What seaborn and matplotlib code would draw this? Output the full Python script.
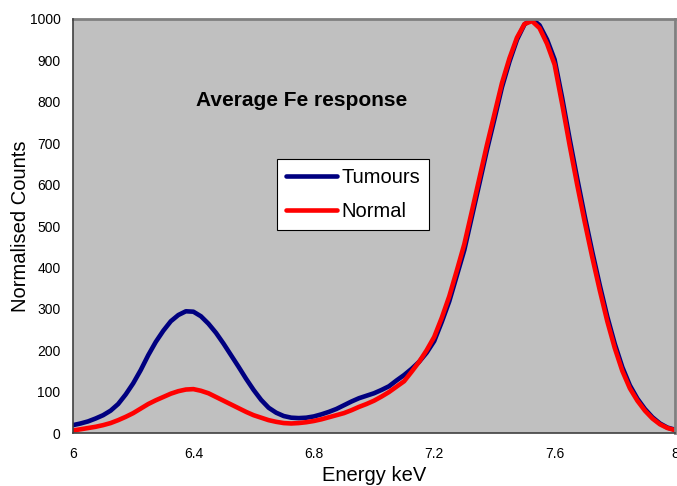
import numpy as np
import pandas as pd
import matplotlib
matplotlib.use("Agg")
import matplotlib.pyplot as plt
import seaborn as sns

# Energy grid (keV) shared by both spectra
energy = np.round(np.arange(6.0, 8.0001, 0.025), 3)

# Average Fe response, normalised to the main peak
tumours = [
    19, 23, 28, 35, 43, 54, 70, 93, 120, 152,
    188, 220, 247, 270, 285, 294, 293, 282, 264, 242,
    216, 188, 160, 131, 104, 80, 61, 49, 41, 37,
    36, 37, 40, 45, 51, 58, 67, 76, 84, 90,
    96, 104, 113, 127, 140, 155, 172, 194, 222, 268,
    318, 380, 442, 522, 602, 683, 758, 835, 897, 950,
    987, 1000, 985, 950, 902, 810, 710, 615, 524, 438,
    357, 281, 215, 159, 115, 83, 58, 38, 23, 13,
    8,
]
normal = [
    6, 9, 12, 15, 19, 24, 31, 39, 48, 59,
    70, 79, 87, 95, 101, 105, 106, 102, 96, 87,
    78, 69, 60, 51, 43, 37, 31, 27, 24, 23,
    24, 26, 29, 33, 38, 43, 48, 55, 63, 70,
    78, 88, 99, 112, 125, 148, 172, 200, 232, 278,
    330, 392, 456, 535, 615, 695, 770, 845, 905, 955,
    988, 995, 978, 940, 890, 795, 695, 600, 510, 425,
    345, 270, 205, 150, 108, 78, 54, 35, 21, 12,
    7,
]
series_names = ["Tumours", "Normal"]
series_colors = ["#000080", "#FF0000"]

x_ticks = [6.0, 6.4, 6.8, 7.2, 7.6, 8.0]
x_tick_labels = ["6", "6.4", "6.8", "7.2", "7.6", "8"]
y_ticks = list(range(0, 1001, 100))

df = pd.concat([
    pd.DataFrame({"Energy": energy, "Counts": tumours, "Sample": series_names[0]}),
    pd.DataFrame({"Energy": energy, "Counts": normal, "Sample": series_names[1]}),
], ignore_index=True)

sns.set_style("white")
plt.rcParams["font.family"] = ["Liberation Sans", "DejaVu Sans"]
plt.rcParams["text.color"] = "black"
plt.rcParams["axes.labelcolor"] = "black"

fig = plt.figure(figsize=(6.77, 4.86), dpi=100)
ax = fig.add_axes([73 / 677, 53 / 486, 602 / 677, 414 / 486])
ax.set_facecolor("#C0C0C0")

sns.lineplot(
    data=df, x="Energy", y="Counts", hue="Sample",
    hue_order=series_names, palette=dict(zip(series_names, series_colors)),
    linewidth=3.3, ax=ax, sort=False, estimator=None,
)

ax.set_xlim(6, 8)
ax.set_ylim(0, 1000)
ax.set_xticks(x_ticks)
ax.set_xticklabels(x_tick_labels)
ax.set_yticks(y_ticks)
ax.tick_params(axis="both", direction="out", length=5, width=1,
               color="#404040", labelsize=10, labelcolor="black", pad=4)
ax.tick_params(axis="x", pad=5)

for side in ("left", "bottom"):
    ax.spines[side].set_color("#404040")
    ax.spines[side].set_linewidth(1.2)
for side in ("top", "right"):
    ax.spines[side].set_color("#808080")
    ax.spines[side].set_linewidth(2)
ax.spines["left"].set_zorder(5)

ax.set_xlabel("Energy keV", fontsize=14.5, color="black")
ax.xaxis.set_label_coords(0.5, -0.079)
ax.set_ylabel("Normalised Counts", fontsize=14.5, color="black")
ax.yaxis.set_label_coords(-0.072, 0.5)

ax.text(0.379, 0.804, "Average Fe response", transform=ax.transAxes,
        ha="center", va="center", fontsize=15, fontweight="bold", color="black")

handles, labels = ax.get_legend_handles_labels()
leg = ax.legend(
    handles, labels, loc="upper left", bbox_to_anchor=(0.339, 0.662),
    fontsize=14.5, frameon=True, fancybox=False, shadow=False,
    framealpha=1, edgecolor="black", facecolor="white",
    handlelength=2.55, handletextpad=0.2, labelspacing=0.75,
    borderpad=0.45, borderaxespad=0,
)
leg.get_frame().set_linewidth(0.8)
for line in leg.get_lines():
    line.set_linewidth(3.3)
for txt in leg.get_texts():
    txt.set_color("black")

fig.savefig("out.png", dpi=100)
